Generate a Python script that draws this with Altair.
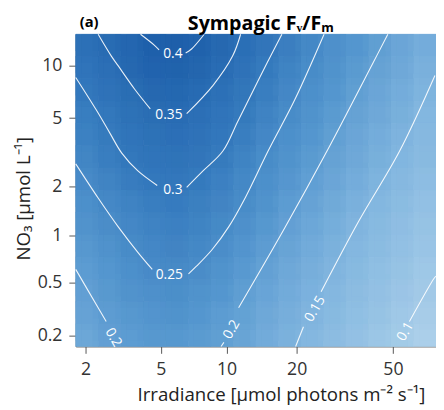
import altair as alt
import pandas as pd

# ---- grid (cell edges, data units) ----
irr_edges = [1.741, 2.373, 3.151, 4.108, 5.285, 6.734, 8.52, 10.72, 13.42,
             16.74, 20.84, 25.87, 32.07, 39.69, 49.07, 60.64, 74.86]
no3_edges = [15.11, 11.27, 8.40, 6.26, 4.66, 3.46, 2.56, 1.89, 1.39,
             1.01, 0.732, 0.522, 0.365, 0.248, 0.160]

# Fv/Fm values per cell (rows top -> bottom, columns left -> right)
fvfm = [
    [.334, .355, .377, .400, .406, .394, .368, .341, .312, .284, .258, .238, .220, .202, .185, .168],
    [.319, .340, .366, .385, .389, .378, .354, .325, .297, .272, .248, .229, .211, .193, .177, .160],
    [.301, .324, .347, .366, .370, .359, .335, .310, .285, .260, .239, .220, .202, .185, .169, .153],
    [.287, .306, .329, .346, .352, .339, .319, .298, .273, .249, .230, .211, .193, .177, .161, .146],
    [.277, .296, .315, .329, .337, .325, .308, .285, .261, .239, .220, .201, .185, .169, .154, .141],
    [.265, .286, .305, .316, .322, .312, .296, .271, .248, .229, .210, .193, .177, .162, .147, .137],
    [.251, .269, .289, .302, .307, .297, .278, .258, .239, .219, .200, .184, .168, .153, .141, .130],
    [.239, .257, .274, .286, .293, .282, .267, .249, .229, .209, .191, .175, .159, .146, .135, .124],
    [.228, .245, .261, .274, .280, .270, .256, .238, .218, .198, .182, .166, .150, .139, .129, .118],
    [.217, .233, .250, .261, .267, .258, .244, .225, .206, .189, .173, .158, .145, .134, .124, .113],
    [.207, .222, .239, .251, .254, .246, .229, .213, .196, .180, .165, .150, .139, .128, .118, .107],
    [.199, .214, .227, .236, .242, .232, .220, .203, .187, .172, .156, .144, .133, .122, .112, .101],
    [.191, .205, .216, .225, .230, .221, .209, .195, .179, .164, .149, .139, .128, .117, .106, .095],
    [.183, .198, .208, .215, .218, .211, .202, .188, .172, .157, .144, .133, .122, .111, .100, .089],
]

# ---- contour line segments (irradiance, NO3) ----
contours = {
    "c40_left":  ([3.98, 4.65, 4.91], [15.11, 13.11, 12.30]),
    "c40_right": ([6.55, 6.97, 7.96], [11.83, 12.45, 15.11]),
    "c35_left":  ([2.37, 2.80, 3.05, 3.72, 4.45], [15.11, 11.38, 10.0, 7.33, 5.65]),
    "c35_right": ([6.62, 8.72, 10.65, 11.53], [5.30, 7.72, 11.38, 15.11]),
    "c30_left":  ([1.741, 2.31, 2.76, 3.19, 3.85, 4.81], [8.56, 5.58, 4.08, 3.13, 2.47, 2.02]),
    "c30_right": ([6.62, 7.88, 9.64, 11.19, 12.96, 15.00, 17.33], [1.97, 2.47, 3.22, 4.77, 7.05, 10.40, 15.11]),
    "c25_left":  ([1.741, 2.37, 3.05, 3.85, 4.55], [2.71, 1.70, 1.14, 0.79, 0.61]),
    "c25_right": ([6.75, 7.34, 8.64, 10.24, 12.11, 15.14, 19.61, 26.04], [0.57, 0.64, 0.82, 1.14, 1.72, 3.22, 6.35, 15.11]),
    "c20_left":  ([1.741, 2.37, 2.63], [0.61, 0.33, 0.26]),
    "c20_right": ([11.30, 17.83, 26.78, 41.49, 47.67], [0.33, 1.12, 3.22, 10.40, 15.11]),
    "c20_lower": ([9.46, 9.74], [0.160, 0.174]),
    "c15_upper": ([25.31, 36.10, 53.25, 74.12], [0.43, 1.22, 3.22, 8.79]),
    "c15_lower": ([19.80, 21.36], [0.160, 0.236]),
    "c10_upper": ([58.38, 73.44, 74.8], [0.26, 0.53, 0.55]),
}

label_text = ["0.4", "0.35", "0.3", "0.25", "0.2", "0.2", "0.15", "0.1"]
label_irr = [5.71, 5.47, 5.71, 5.49, 2.87, 10.55, 23.92, 56.28]
label_no3 = [11.68, 5.23, 1.89, 0.56, 0.192, 0.224, 0.323, 0.215]
label_angle = [0, 0, 0, 0, 60, 300, 300, 300]

x_ticks = [2, 5, 10, 20, 50]
y_ticks = [0.2, 0.5, 1, 2, 5, 10]

# ---- tables ----
cells = []
for j, row in enumerate(fvfm):
    for i, v in enumerate(row):
        cells.append({"x0": irr_edges[i], "x1": irr_edges[i + 1],
                      "y0": no3_edges[j + 1], "y1": no3_edges[j], "v": v})
cells = pd.DataFrame(cells)

lines = []
for name, (xs_, ys_) in contours.items():
    for k, (a, b) in enumerate(zip(xs_, ys_)):
        lines.append({"seg": name, "k": k, "irr": a, "no3": b})
lines = pd.DataFrame(lines)

labels = pd.DataFrame({"t": label_text, "irr": label_irr, "no3": label_no3, "ang": label_angle})

FONT = "Open Sans"
W, H = 367, 318
xs = alt.Scale(type="symlog", constant=1, domain=[irr_edges[0], irr_edges[-1]], nice=False, zero=False)
ys = alt.Scale(type="symlog", constant=0.1, domain=[no3_edges[-1], no3_edges[0]], nice=False, zero=False)
cs = alt.Scale(domain=[0.09, 0.15, 0.22, 0.30, 0.42],
               range=["#aacfea", "#80b5df", "#5597cf", "#3479bd", "#1b5ca8"], interpolate="rgb")

heat = alt.Chart(cells).mark_rect(strokeWidth=0.6).encode(
    x=alt.X("x0:Q", scale=xs, axis=alt.Axis(values=x_ticks, format="~r", labelPadding=8,
            title="Irradiance [µmol photons m⁻² s⁻¹]",
            titleX=209, titleY=55, titleAlign="center", titleBaseline="alphabetic")),
    x2="x1:Q",
    y=alt.Y("y0:Q", scale=ys, axis=alt.Axis(values=y_ticks, format="~r", labelPadding=7,
            title="NO₃ [µmol L⁻¹]", titleX=-53, titleY=167, titleAngle=270,
            titleAlign="center", titleBaseline="middle")),
    y2="y1:Q",
    color=alt.Color("v:Q", scale=cs, legend=None),
    stroke=alt.Stroke("v:Q", scale=cs, legend=None),
)

# softening layers: the same cells drawn again, shifted by a quarter cell, translucent
cw, ch = W / 16 / 4, H / 14 / 4
soft = []
for (dx, dy, op) in [(-cw, -ch, 1.0), (cw, -ch, 0.5), (-cw, ch, 1 / 3), (cw, ch, 0.25)]:
    soft.append(alt.Chart(cells).mark_rect(xOffset=dx, yOffset=dy, opacity=op, clip=True).encode(
        x=alt.X("x0:Q", scale=xs), x2="x1:Q",
        y=alt.Y("y0:Q", scale=ys), y2="y1:Q",
        color=alt.Color("v:Q", scale=cs, legend=None),
    ))

clines = alt.Chart(lines).mark_line(color="white", strokeWidth=1.1, opacity=0.9,
                                    interpolate="catmull-rom").encode(
    x=alt.X("irr:Q", scale=xs),
    y=alt.Y("no3:Q", scale=ys),
    detail="seg:N",
    order="k:Q",
)

ctext = alt.Chart(labels).mark_text(color="white", font=FONT, fontSize=14).encode(
    x=alt.X("irr:Q", scale=xs),
    y=alt.Y("no3:Q", scale=ys),
    text="t:N",
    angle=alt.Angle("ang:Q", scale=None),
)

tag = alt.Chart(pd.DataFrame({"t": ["(a)"]})).mark_text(
    font=FONT, fontSize=15, fontWeight="bold", align="left", baseline="middle", color="black"
).encode(x=alt.value(4), y=alt.value(-12), text="t:N")

title = alt.Chart(pd.DataFrame({"t": ["Sympagic Fᵥ/Fₘ"]})).mark_text(
    font=FONT, fontSize=20, fontWeight="bold", align="center", baseline="alphabetic", color="black"
).encode(x=alt.value(W / 2 + 5), y=alt.value(-4), text="t:N")

chart = alt.layer(heat, *soft, clines, ctext, tag, title).properties(
    width=W, height=H,
    autosize=alt.AutoSizeParams(type="none"),
    padding={"left": 69, "top": 23, "right": 0, "bottom": 62},
).configure_view(stroke=None).configure_axis(
    grid=False, labelFont=FONT, labelFontSize=18, labelColor="#333333",
    titleFont=FONT, titleFontSize=19, titleFontWeight="normal", titleColor="#222222",
    domainColor="#555555", tickColor="#555555", tickSize=7,
)

chart.save("out.html", embed_options={"renderer": "svg", "actions": False})
